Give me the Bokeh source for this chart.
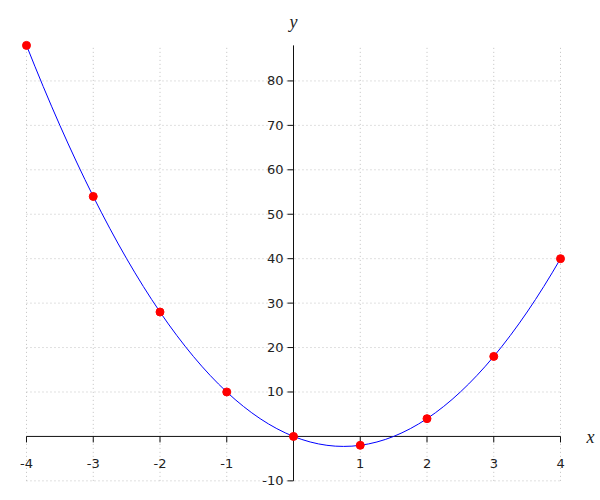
import numpy as np
from bokeh.plotting import figure
from bokeh.models import Range1d
from bokeh.core.properties import value
from bokeh.embed import file_html
from bokeh.resources import INLINE

# data
xs = [-4, -3, -2, -1, 0, 1, 2, 3, 4]
ys = [88, 54, 28, 10, 0, -2, 4, 18, 40]
x_ticks = [-4, -3, -2, -1, 1, 2, 3, 4]
x_tick_labels = ["-4", "-3", "-2", "-1", "1", "2", "3", "4"]
y_ticks = [-10, 10, 20, 30, 40, 50, 60, 70, 80]
y_tick_labels = ["-10", "10", "20", "30", "40", "50", "60", "70", "80"]
y_grid = [-10, 10, 20, 30, 40, 50, 60, 70, 80]
x_grid = [-4, -3, -2, -1, 1, 2, 3, 4]

W, H = 600, 500
p = figure(width=W, height=H, output_backend="svg", toolbar_location=None,
           x_axis_type=None, y_axis_type=None, min_border=0,
           x_range=Range1d(-4.3895, 4.599), y_range=Range1d(-14.42, 98.1))
p.grid.visible = False
p.outline_line_color = None
p.background_fill_color = "white"
p.border_fill_color = "white"

kx = W / (4.599 + 4.3895)
ky = H / (98.1 + 14.42)

xmin, xmax = min(xs), max(xs)
ymin, ymax = min(y_grid), max(ys)

grid_kw = dict(line_color="#c0c0c0", line_width=1, line_dash="1 3")
# vertical grid
p.segment(x0=x_grid, y0=[ymin] * len(x_grid), x1=x_grid, y1=[ymax] * len(x_grid), **grid_kw)
# horizontal grid
p.segment(x0=[xmin] * len(y_grid), y0=y_grid, x1=[xmax] * len(y_grid), y1=y_grid, **grid_kw)

# axes
p.segment(x0=[xmin], y0=[0], x1=[xmax], y1=[0], line_color="#111111", line_width=1)
p.segment(x0=[0], y0=[ymin], x1=[0], y1=[ymax], line_color="#111111", line_width=1)

tick_len = 6
xt_all = x_ticks + [0]
p.segment(x0=xt_all, y0=[0] * len(xt_all), x1=xt_all, y1=[-tick_len / ky] * len(xt_all),
          line_color="#111111", line_width=1)
p.segment(x0=[0] * len(y_ticks), y0=y_ticks, x1=[-tick_len / kx] * len(y_ticks), y1=y_ticks,
          line_color="#111111", line_width=1)

font = value("DejaVu Sans")
p.text(x=x_ticks, y=[0] * len(x_ticks), text=x_tick_labels, text_font=font,
       text_font_size="13px", text_color="#222222", text_align="center",
       text_baseline="middle", y_offset=27)
p.text(x=[0] * len(y_ticks), y=y_ticks, text=y_tick_labels, text_font=font,
       text_font_size="13px", text_color="#222222", text_align="right",
       text_baseline="middle", x_offset=-10)

# axis titles
p.text(x=[xmax], y=[0], text=["x"], text_font=value("Liberation Serif"),
       text_font_style="italic", text_font_size="18px", text_color="#222222",
       text_align="center", text_baseline="middle", x_offset=30, y_offset=1)
p.text(x=[0], y=[ymax], text=["y"], text_font=value("Liberation Serif"),
       text_font_style="italic", text_font_size="18px", text_color="#222222",
       text_align="center", text_baseline="middle", y_offset=-23)

# smooth curve via cubic bezier through data points (Hermite slopes from neighbours)
xa = np.array(xs, dtype=float)
ya = np.array(ys, dtype=float)
n = len(xa)
m = np.zeros(n)
for i in range(1, n - 1):
    m[i] = (ya[i + 1] - ya[i - 1]) / (xa[i + 1] - xa[i - 1])
h0 = xa[1] - xa[0]
m[0] = (-3 * ya[0] + 4 * ya[1] - ya[2]) / (2 * h0)
hn = xa[-1] - xa[-2]
m[-1] = (3 * ya[-1] - 4 * ya[-2] + ya[-3]) / (2 * hn)
h = xa[1:] - xa[:-1]
p.bezier(x0=xa[:-1], y0=ya[:-1], x1=xa[1:], y1=ya[1:],
         cx0=xa[:-1] + h / 3, cy0=ya[:-1] + m[:-1] * h / 3,
         cx1=xa[1:] - h / 3, cy1=ya[1:] - m[1:] * h / 3,
         line_color="#0000ff", line_width=1)

p.scatter(x=xs, y=ys, size=8, fill_color="#ff0000", line_color="#ff0000")

open("out.html", "w").write(file_html(p, INLINE))
